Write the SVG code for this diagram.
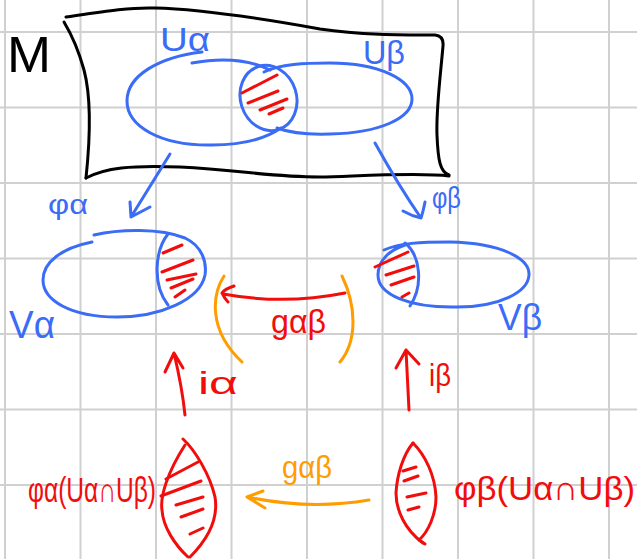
<svg xmlns="http://www.w3.org/2000/svg" width="637" height="559" viewBox="0 0 637 559">
<style>
.grid{stroke:#d0d0d0;stroke-width:2;fill:none}
.k{stroke:#000;stroke-width:3;fill:none;stroke-linecap:round;stroke-linejoin:round}
.b{stroke:#3a6cf6;stroke-width:3;fill:none;stroke-linecap:round;stroke-linejoin:round}
.r{stroke:#f20d0d;stroke-width:3;fill:none;stroke-linecap:round;stroke-linejoin:round}
.o{stroke:#ff9c00;stroke-width:3;fill:none;stroke-linecap:round;stroke-linejoin:round}
text{font-family:"Liberation Sans","DejaVu Sans",sans-serif}
.tb{fill:#3a6cf6}.tr{fill:#f20d0d}.to{fill:#ff9c00}.tk{fill:#000}
</style>
<rect width="637" height="559" fill="#fff"/>
<g id="grid" class="grid">
<path d="M5,0V559M80.5,0V559M156,0V559M231.5,0V559M307,0V559M382.5,0V559M458,0V559M533.5,0V559M609,0V559"/>
<path d="M0,32H637M0,107.5H637M0,183H637M0,258.5H637M0,334H637M0,409.5H637M0,485H637"/>
</g>
<g id="M">
<path class="k" d="M66,17 C100,12 130,7 155,8 C200,9 270,20 320,29 C360,35 400,35 435,35 Q444,36 443,46 C440,80 436,110 437,135 C438,160 440,172 449,175"/>
<path class="k" d="M449,176 C420,172 360,176 320,177 C270,177 240,170 180,167 C130,165 105,168 86,178"/>
<path class="k" d="M86,178 C90,140 92,100 84,70 C78,48 70,32 64,22"/>
<text class="tk" x="7" y="72" font-size="50" textLength="44" lengthAdjust="spacingAndGlyphs">M</text>
</g>
<g id="U_alpha">
<path class="b" d="M192,63 C225,57 252,61 270,70 M281,128 C265,139 240,145 212,145 C160,146 127,126 127,101 C127,75 160,57 202,52"/>
<text class="tb" x="160" y="51" font-size="34" textLength="50" lengthAdjust="spacingAndGlyphs">Uα</text>
</g>
<g id="U_beta">
<path class="b" d="M264,72 C280,64 305,63 330,63 C380,63 412,80 412,99 C412,118 380,133 330,134 C300,135 285,131 277,128"/>
<text class="tb" x="363" y="64" font-size="34" textLength="42" lengthAdjust="spacingAndGlyphs">Uβ</text>
</g>
<g id="intersection">
<ellipse class="b" cx="268.5" cy="98" rx="28" ry="33" transform="rotate(-18 268.5 98)"/>
<path class="r" d="M242,93 L277,75 M248,103 L278,91 M260,110 L287,99 M269,114 L283,108"/>
</g>
<g id="V_alpha">
<path class="b" d="M94,235 C120,229 160,228 185,238 C202,246 207,262 205,275 C200,300 160,317 117,317 C70,317 43,300 43,280 C43,262 62,248 92,242"/>
<path class="b" d="M168,234 C155,250 152,285 168,305"/>
<path class="r" d="M163,253 L182,245 M162,272 L193,260 M167,280 L196,274 M171,288 L193,279 M175,297 L185,290"/>
<text class="tb" x="9" y="338" font-size="38" textLength="46" lengthAdjust="spacingAndGlyphs">Vα</text>
</g>
<g id="V_beta">
<path class="b" d="M384,250 C400,243 420,242 450,242 C500,243 530,258 529,275 C528,292 500,307 457,307 C410,308 378,295 378,275 C378,260 390,250 405,245"/>
<path class="b" d="M405,243 C420,255 424,285 410,306"/>
<path class="r" d="M375,267 L408,252 M386,275 L414,266 M391,285 L414,277 M402,297 L409,293"/>
<text class="tb" x="498" y="330" font-size="36" textLength="44" lengthAdjust="spacingAndGlyphs">Vβ</text>
</g>
<g id="lens_alpha">
<path class="r" d="M185,445 C167,473 160,497 162,510 C163,527 175,545 188,557"/>
<path class="r" d="M183,439 C195,450 210,475 215,497 C218,515 212,535 190,557"/>
<path class="r" d="M166,479 L198,462 M161,496 L201,481 M176,505 L203,497 M181,517 L203,509 M190,534 L203,528"/>
<text class="tr" x="28" y="502" font-size="35" textLength="128" lengthAdjust="spacingAndGlyphs">φα(Uα∩Uβ)</text>
</g>
<g id="lens_beta">
<path class="r" d="M413,443 C403,455 397,475 396,493 C396,510 405,530 423,543"/>
<path class="r" d="M413,443 C425,455 435,475 436,497 C436,515 428,532 419,540 L425,544"/>
<path class="r" d="M403,471 L416,467 M404,481 L418,476 M407,497 L426,493 M408,510 L419,507"/>
<text class="tr" x="454" y="500" font-size="34" textLength="181" lengthAdjust="spacingAndGlyphs">φβ(Uα∩Uβ)</text>
</g>
<g id="connectors">
<path class="b" d="M170,154 L131,217 M130,202 L131,217 L150,207"/>
<text class="tb" x="48" y="214" font-size="28" textLength="40" lengthAdjust="spacingAndGlyphs">φα</text>
<path class="b" d="M375,143 C390,170 405,195 421,218 M403,211 C410,215 416,217 421,218 C423,212 424,207 425,202"/>
<text class="tb" x="432" y="208" font-size="30" textLength="29" lengthAdjust="spacingAndGlyphs">φβ</text>
<path class="r" d="M345,293 C310,300 267,302 223,294 M234,286 C228,288 224,290 222,293 C224,297 226,300 228,302"/>
<text class="tr" x="271" y="333" font-size="34" textLength="55" lengthAdjust="spacingAndGlyphs">gαβ</text>
<path class="o" d="M224,276 C212,295 208,330 242,362 M342,276 C356,305 358,340 340,362"/>
<path class="r" d="M185,415 C183,395 178,370 174,353 M165,372 L174,353 L183,368"/>
<text class="tr" x="198" y="394" font-size="32" textLength="40" lengthAdjust="spacingAndGlyphs">iα</text>
<path class="r" d="M409,410 C408,390 407,370 406,350 M396,368 L406,350 L419,364"/>
<text class="tr" x="429" y="386" font-size="32" textLength="22" lengthAdjust="spacingAndGlyphs">iβ</text>
<path class="o" d="M369,500 C340,505 300,508 247,497 M263,491 L247,497 L265,508"/>
<text class="to" x="282" y="478" font-size="32" textLength="50" lengthAdjust="spacingAndGlyphs">gαβ</text>
</g>
</svg>
